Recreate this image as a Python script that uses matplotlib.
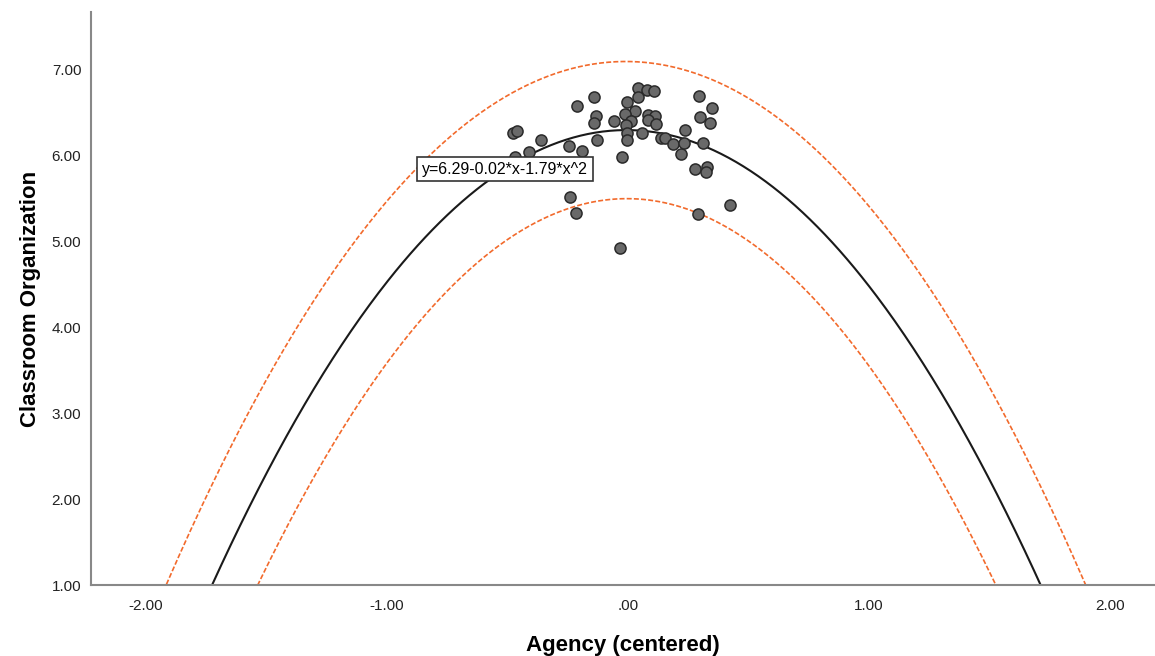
import numpy as np
import matplotlib.pyplot as plt

plt.rcParams['font.family'] = ['Liberation Sans', 'DejaVu Sans']

# scatter data
agency = np.array([-0.476, -0.459, -0.360, -0.410, -0.468, -0.210, -0.140, -0.132, -0.140,
                   -0.244, -0.190, -0.127, -0.057, -0.003, 0.043, 0.080, 0.109, 0.043,
                   0.030, -0.011, 0.014, -0.007, -0.003, -0.003, 0.084, 0.113, 0.084,
                   0.117, 0.059, -0.024, 0.138, 0.155, 0.188, 0.221, 0.234, 0.238,
                   0.296, 0.350, 0.300, 0.341, 0.312, 0.279, 0.329, 0.325, -0.239,
                   -0.215, 0.292, 0.424, -0.032])
organization = np.array([6.256, 6.279, 6.174, 6.035, 5.977, 6.570, 6.674, 6.453, 6.372,
                         6.105, 6.047, 6.174, 6.395, 6.616, 6.779, 6.756, 6.744, 6.674,
                         6.512, 6.477, 6.395, 6.349, 6.256, 6.174, 6.465, 6.453, 6.407,
                         6.360, 6.256, 5.977, 6.198, 6.198, 6.128, 6.012, 6.140, 6.291,
                         6.686, 6.547, 6.442, 6.372, 6.140, 5.837, 5.860, 5.802, 5.512,
                         5.326, 5.314, 5.419, 4.919])

# quadratic fit shown in the chart label
coef = [6.29, -0.02, -1.79]
xticks = [-2, -1, 0, 1, 2]
yticks = [1, 2, 3, 4, 5, 6, 7]

# 95% prediction band: residual sd from the quadratic, spread from x
n = len(agency)
pred = coef[0] + coef[1] * agency + coef[2] * agency ** 2
s = np.sqrt(np.sum((organization - pred) ** 2) / (n - 3))
t = 2.013
xbar = agency.mean()
sxx = np.sum((agency - xbar) ** 2)

xs = np.linspace(-2.3, 2.3, 600)
fit = coef[0] + coef[1] * xs + coef[2] * xs ** 2
half = t * s * np.sqrt(1 + 1 / n + (xs - xbar) ** 2 / sxx)

fig = plt.figure(figsize=(11.55, 6.56), dpi=100)
ax = fig.add_axes([0.0788, 0.1082, 0.9212, 0.8735])

orange = '#f26a2c'
ax.plot(xs, fit + half, color=orange, lw=1.2, ls=(0, (3, 1.3)))
ax.plot(xs, fit - half, color=orange, lw=1.2, ls=(0, (3, 1.3)))
ax.plot(xs, fit, color='#1a1a1a', lw=1.5)
ax.scatter(agency, organization, s=64, facecolor='#696969', edgecolor='#2a2a2a',
           linewidth=1.1, zorder=3)

ax.text(-0.509, 5.837, 'y=6.29-0.02*x-1.79*x^2', fontsize=11.5, ha='center', va='center',
        bbox=dict(boxstyle='square,pad=0.3', facecolor='white', edgecolor='#333333', lw=1.2),
        zorder=4)

ax.set_xlim(-2.227, 2.188)
ax.set_ylim(1.0, 7.663)
ax.set_xticks(xticks)
ax.set_xticklabels(['-2.00', '-1.00', '.00', '1.00', '2.00'])
ax.set_yticks(yticks)
ax.set_yticklabels(['%.2f' % v for v in yticks])
ax.tick_params(length=0, labelsize=11, colors='#222222')
ax.tick_params(axis='x', pad=10)
ax.tick_params(axis='y', pad=7)

for side in ['top', 'right']:
    ax.spines[side].set_visible(False)
for side in ['left', 'bottom']:
    ax.spines[side].set_color('#888888')
    ax.spines[side].set_linewidth(1.5)

ax.set_xlabel('Agency (centered)', fontsize=16, fontweight='bold', labelpad=16)
ax.set_ylabel('Classroom Organization', fontsize=16, fontweight='bold', labelpad=8)

fig.savefig('out.png', dpi=100)
